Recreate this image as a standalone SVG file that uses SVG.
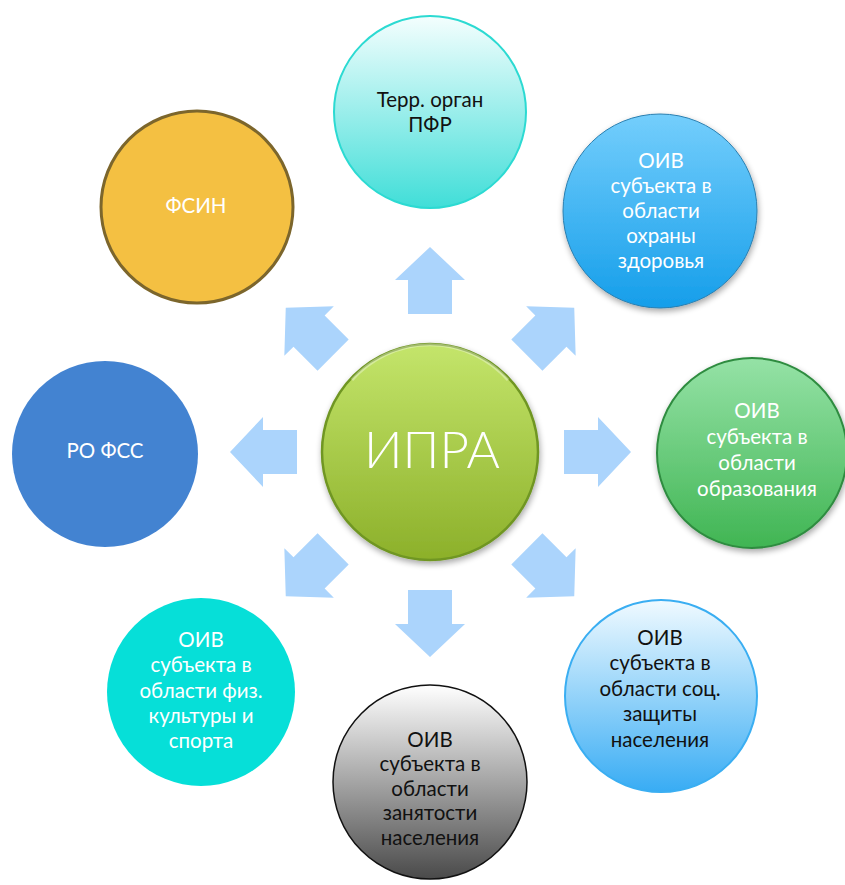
<svg xmlns="http://www.w3.org/2000/svg" width="845" height="885" viewBox="0 0 845 885">
<defs>
<style>
text{font-family:Lato,"Open Sans","Liberation Sans",sans-serif;font-size:20.5px;text-anchor:middle}
.w{fill:#ffffff}
.b{fill:#111111}
.arrow{fill:#ABD4FC}
</style>
<linearGradient id="gTop" x1="0" y1="0" x2="0" y2="1"><stop offset="0" stop-color="#F4FEFE"/><stop offset="1" stop-color="#40DED8"/></linearGradient>
<linearGradient id="gTR" x1="0" y1="0" x2="0" y2="1"><stop offset="0" stop-color="#74CEFC"/><stop offset="1" stop-color="#159EEA"/></linearGradient>
<linearGradient id="gR" x1="0" y1="0" x2="0" y2="1"><stop offset="0" stop-color="#95E2A6"/><stop offset="1" stop-color="#40B553"/></linearGradient>
<linearGradient id="gBR" x1="0" y1="0" x2="0" y2="1"><stop offset="0" stop-color="#F0FAFF"/><stop offset="1" stop-color="#38ACF4"/></linearGradient>
<linearGradient id="gB" x1="0" y1="0" x2="0" y2="1"><stop offset="0" stop-color="#FFFFFF"/><stop offset="1" stop-color="#4A4A4A"/></linearGradient>
<linearGradient id="gC" x1="0" y1="0" x2="0" y2="1"><stop offset="0" stop-color="#C4E56B"/><stop offset="1" stop-color="#8CB02A"/></linearGradient>
<filter id="sh" x="-20%" y="-20%" width="140%" height="140%"><feGaussianBlur in="SourceAlpha" stdDeviation="3"/><feOffset dx="1" dy="3"/><feComponentTransfer><feFuncA type="linear" slope="0.35"/></feComponentTransfer><feMerge><feMergeNode/><feMergeNode in="SourceGraphic"/></feMerge></filter>
<path id="arr" d="M0,-22 L34,-22 L34,-35 L67,0 L34,35 L34,22 L0,22 Z"/>
</defs>
<rect width="845" height="885" fill="#ffffff"/>

<g id="connectors">
<use href="#arr" class="arrow" transform="translate(430,452) rotate(-90) translate(138,0)"/>
<use href="#arr" class="arrow" transform="translate(430,452) rotate(-45) translate(137,0)"/>
<use href="#arr" class="arrow" transform="translate(430,452) rotate(0) translate(134,0)"/>
<use href="#arr" class="arrow" transform="translate(430,452) rotate(45) translate(137,0)"/>
<use href="#arr" class="arrow" transform="translate(430,452) rotate(90) translate(138,0)"/>
<use href="#arr" class="arrow" transform="translate(430,452) rotate(135) translate(137,0)"/>
<use href="#arr" class="arrow" transform="translate(430,452) rotate(180) translate(133,0)"/>
<use href="#arr" class="arrow" transform="translate(430,452) rotate(-135) translate(137,0)"/>
</g>

<g id="node-pfr">
<circle cx="430" cy="112" r="96" fill="url(#gTop)" stroke="#2CDAD2" stroke-width="2"/>
<text class="b" x="430" y="107">Терр. орган</text>
<text class="b" x="430" y="132">ПФР</text>
</g>

<g id="node-health">
<circle cx="660" cy="211" r="97" fill="url(#gTR)" stroke="#2A7FB0" stroke-width="1" filter="url(#sh)"/>
<text class="w" x="661" y="168">ОИВ</text>
<text class="w" x="661" y="193">субъекта в</text>
<text class="w" x="661" y="218">области</text>
<text class="w" x="661" y="243">охраны</text>
<text class="w" x="661" y="268">здоровья</text>
</g>

<g id="node-education">
<circle cx="752" cy="453" r="95" fill="url(#gR)" stroke="#2F8C40" stroke-width="2" filter="url(#sh)"/>
<text class="w" x="757" y="418">ОИВ</text>
<text class="w" x="757" y="444">субъекта в</text>
<text class="w" x="757" y="470">области</text>
<text class="w" x="757" y="496">образования</text>
</g>

<g id="node-social">
<circle cx="661" cy="696" r="96" fill="url(#gBR)" stroke="#3AAEF2" stroke-width="2"/>
<text class="b" x="660" y="645">ОИВ</text>
<text class="b" x="660" y="670">субъекта в</text>
<text class="b" x="660" y="696">области соц.</text>
<text class="b" x="660" y="721">защиты</text>
<text class="b" x="660" y="747">населения</text>
</g>

<g id="node-employment">
<circle cx="430" cy="782" r="97" fill="url(#gB)" stroke="#111111" stroke-width="1.5"/>
<text class="b" x="430" y="747">ОИВ</text>
<text class="b" x="430" y="771">субъекта в</text>
<text class="b" x="430" y="796">области</text>
<text class="b" x="430" y="820">занятости</text>
<text class="b" x="430" y="845">населения</text>
</g>

<g id="node-sport">
<circle cx="201" cy="692" r="94" fill="#06DFD8"/>
<text class="w" x="201" y="647">ОИВ</text>
<text class="w" x="201" y="672">субъекта в</text>
<text class="w" x="201" y="698">области физ.</text>
<text class="w" x="201" y="723">культуры и</text>
<text class="w" x="201" y="748">спорта</text>
</g>

<g id="node-fss">
<circle cx="105" cy="454" r="93" fill="#4383D1"/>
<text class="w" x="105" y="458">РО ФСС</text>
</g>

<g id="node-fsin">
<circle cx="197" cy="207" r="96" fill="#F4C042" stroke="#7C662C" stroke-width="3"/>
<text class="w" x="196" y="213">ФСИН</text>
</g>

<g id="node-ipra">
<circle cx="430" cy="452" r="108" fill="url(#gC)" stroke="#6F9623" stroke-width="2.5" filter="url(#sh)"/>
<path d="M352,380 A104,104 0 0 1 508,380" fill="none" stroke="#ffffff" stroke-opacity="0.35" stroke-width="3"/>
<text class="w" x="432" y="468" style="font-size:51px;font-weight:300">ИПРА</text>
</g>
</svg>
